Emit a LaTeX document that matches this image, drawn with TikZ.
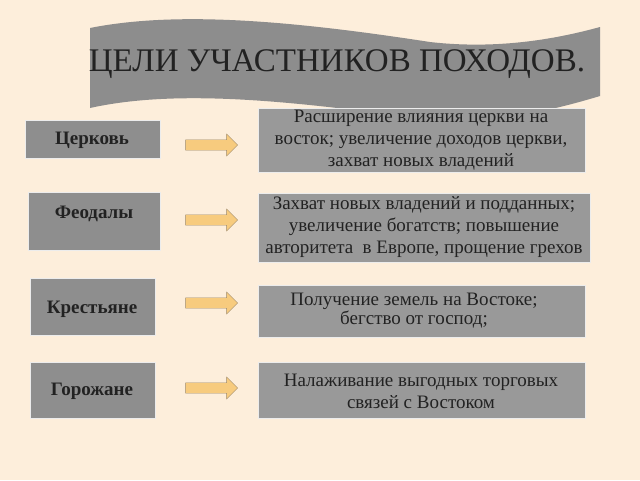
\documentclass[tikz,border=0pt]{standalone}
\usepackage{fontspec}
\setmainfont{Liberation Serif}
\usetikzlibrary{shapes.arrows}
\definecolor{bg}{HTML}{FDEEDB}
\definecolor{boxgray}{HTML}{8E8E8E}
\definecolor{goalgray}{HTML}{999999}
\definecolor{arrowfill}{HTML}{F7CB7E}
\definecolor{arrowline}{HTML}{9E8A6A}
\definecolor{ink}{HTML}{222222}
\tikzset{
  who/.style={draw=white!85!gray, line width=0.8pt, fill=boxgray, text=ink, font=\bfseries\fontsize{19}{22}\selectfont},
  goal/.style={draw=white!85!gray, line width=0.8pt, fill=goalgray, text=ink, align=center, font=\fontsize{19}{22}\selectfont},
  fat arrow/.style={single arrow, draw=arrowline, fill=arrowfill, minimum height=52pt, minimum width=22pt, single arrow head extend=3pt, inner sep=2.5pt}
}
\begin{document}
\begin{tikzpicture}[x=1pt,y=-1pt]
  \fill[bg] (0,0) rectangle (640,480);
  \useasboundingbox (0,0) rectangle (640,480);
  % banner
  \fill[gray!95!black!85] (90,28) .. controls (180,10) and (300,22) .. (430,42)
     .. controls (500,50) and (560,38) .. (600,27) -- (600,96)
     .. controls (560,108) and (500,124) .. (430,120)
     .. controls (300,102) and (180,88) .. (90,108) -- cycle;
  \node[text=ink, font=\fontsize{33}{36}\selectfont] (title) at (337,64) {ЦЕЛИ УЧАСТНИКОВ ПОХОДОВ.};
  % participants
  \path[who] (25,120) rectangle (160,158);
  \node[who, draw=none, fill=none] (church) at (92,140) {Церковь};
  \path[who] (28,192) rectangle (160,250);
  \node[who, draw=none, fill=none] (lords) at (94,214) {Феодалы};
  \path[who] (30,278) rectangle (155,335);
  \node[who, draw=none, fill=none] (peasants) at (92,309) {Крестьяне};
  \path[who] (30,362) rectangle (155,418);
  \node[who, draw=none, fill=none] (towns) at (92,391) {Горожане};
  % goals
  \path[goal] (258,108) rectangle (585,172);
  \node[goal, draw=none, fill=none] (g1) at (421,140) {Расширение влияния церкви на\\восток; увеличение доходов церкви,\\захват новых владений};
  \path[goal] (258,193) rectangle (590,262);
  \node[goal, draw=none, fill=none] (g2) at (424,227) {Захват новых владений и подданных;\\увеличение богатств; повышение\\авторитета\ \ в Европе, прощение грехов};
  \path[goal] (258,285) rectangle (585,337);
  \node[goal, draw=none, fill=none, font=\fontsize{19}{19}\selectfont] (g3) at (414,311) {Получение земель на Востоке;\\бегство от господ;};
  \path[goal] (258,362) rectangle (585,418);
  \node[goal, draw=none, fill=none] (g4) at (421,391) {Налаживание выгодных торговых\\связей с Востоком};
  % arrows
  \foreach \y in {145,220,303,388} { \node[fat arrow] at (209,\y) {}; }
\end{tikzpicture}
\end{document}
